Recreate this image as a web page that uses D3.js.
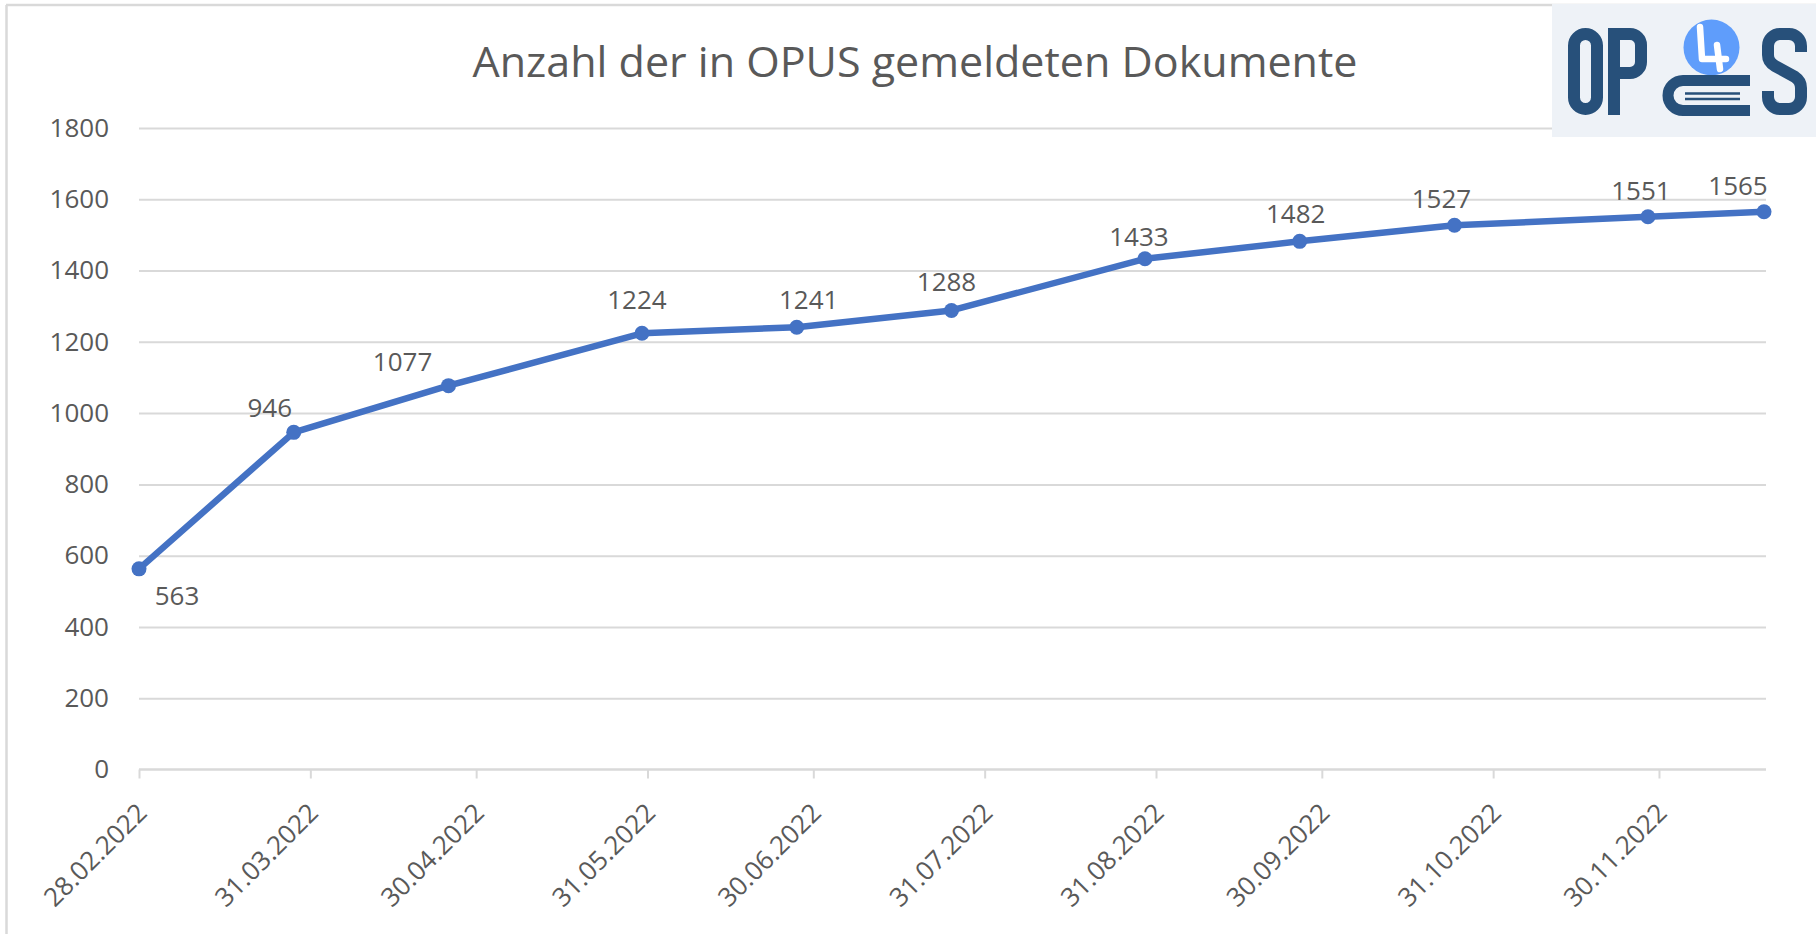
<!DOCTYPE html>
<html>
<head>
<meta charset="utf-8">
<script src="https://cdn.jsdelivr.net/npm/d3@7"></script>
<style>
  body { margin: 0; background: #fff; }
  svg text { font-family: "Open Sans", sans-serif; fill: #595959; }
</style>
</head>
<body>
<svg id="chart" width="1816" height="934"></svg>
<script>
// stichtage (letzter Montag im Monat) und Anzahl Dokumente
var dates = ["28.02.2022", "28.03.2022", "25.04.2022", "30.05.2022", "27.06.2022", "25.07.2022",
             "29.08.2022", "26.09.2022", "24.10.2022", "28.11.2022", "19.12.2022"];
var values = [563, 946, 1077, 1224, 1241, 1288, 1433, 1482, 1527, 1551, 1565];

var tickLabels = ["28.02.2022", "31.03.2022", "30.04.2022", "31.05.2022", "30.06.2022",
                  "31.07.2022", "31.08.2022", "30.09.2022", "31.10.2022", "30.11.2022"];
var yTicks = [0, 200, 400, 600, 800, 1000, 1200, 1400, 1600, 1800];

// label nudges relative to the point
var labelDx = [38, -24, -46, -5, 12, -5, -6, -4, -13, -7, -26];
var labelDy = [36, -15, -15, -24, -18, -19, -13, -18, -17, -17, -17];

var title = "Anzahl der in OPUS gemeldeten Dokumente";

var parse = d3.utcParse("%d.%m.%Y");
var fmt = d3.utcFormat("%d.%m.%Y");

var svg = d3.select("#chart");

var x = d3.scaleUtc()
  .domain([parse(dates[0]), parse(dates[dates.length - 1])])
  .range([139, 1764]);
var y = d3.scaleLinear().domain([0, 1800]).range([769.5, 128]);

// chart frame
svg.append("line").attr("x1", 6.5).attr("x2", 6.5).attr("y1", 5).attr("y2", 934)
  .attr("stroke", "#d9d9d9").attr("stroke-width", 2.5);
svg.append("line").attr("x1", 6).attr("x2", 1816).attr("y1", 5).attr("y2", 5)
  .attr("stroke", "#d9d9d9").attr("stroke-width", 2.5);

// title
svg.append("text")
  .attr("x", 915).attr("y", 77)
  .attr("text-anchor", "middle")
  .attr("textLength", 885)
  .attr("lengthAdjust", "spacingAndGlyphs")
  .style("font-size", "42px")
  .text(title);

// gridlines
var grid = svg.append("g")
  .attr("transform", "translate(139,0)")
  .call(d3.axisLeft(y).tickValues(yTicks.slice(1)).tickSize(-(1766 - 139)).tickFormat(""));
grid.select(".domain").remove();
grid.selectAll("line").attr("stroke", "#d9d9d9").attr("stroke-width", 2);

// y labels
var yAxis = svg.append("g")
  .attr("transform", "translate(139,0)")
  .call(d3.axisLeft(y).tickValues(yTicks).tickSize(0).tickPadding(30).tickFormat(d3.format("d")));
yAxis.select(".domain").remove();
yAxis.selectAll("text").style("font-size", "26px").attr("font-family", null);

// x axis
var xAxis = svg.append("g")
  .attr("transform", "translate(0," + y(0) + ")")
  .call(d3.axisBottom(x)
    .tickValues(tickLabels.map(parse))
    .tickSize(9)
    .tickSizeOuter(0)
    .tickFormat(fmt));
xAxis.select(".domain").attr("stroke", "#d9d9d9").attr("stroke-width", 2.5)
  .attr("d", "M" + x.range()[0] + ",0H" + (x.range()[1] + 2));
xAxis.selectAll(".tick line").attr("stroke", "#d9d9d9").attr("stroke-width", 2);
xAxis.selectAll("text")
  .style("font-size", "26px")
  .attr("x", 9).attr("y", 45).attr("dy", 0)
  .attr("text-anchor", "end")
  .attr("transform", "rotate(-45,9,45)");

// series
var pts = dates.map(function(d, i) { return { date: parse(d), value: values[i], i: i }; });

var line = d3.line()
  .x(function(d) { return x(d.date); })
  .y(function(d) { return y(d.value); });

svg.append("path")
  .datum(pts)
  .attr("fill", "none")
  .attr("stroke", "#4472c4")
  .attr("stroke-width", 6.5)
  .attr("stroke-linejoin", "round")
  .attr("d", line);

svg.append("g").selectAll("circle")
  .data(pts).enter().append("circle")
  .attr("cx", function(d) { return x(d.date); })
  .attr("cy", function(d) { return y(d.value); })
  .attr("r", 7.5)
  .attr("fill", "#4472c4");

svg.append("g").selectAll("text")
  .data(pts).enter().append("text")
  .attr("x", function(d) { return x(d.date) + labelDx[d.i]; })
  .attr("y", function(d) { return y(d.value) + labelDy[d.i]; })
  .attr("text-anchor", "middle")
  .style("font-size", "26px")
  .text(function(d) { return d.value; });

// OPUS 4 logo (top right)
var logo = svg.append("g");
var dark = "#27507a";
logo.append("rect").attr("x", 1552).attr("y", 4).attr("width", 264).attr("height", 133).attr("fill", "#eef2f7");
// O
logo.append("rect").attr("x", 1574).attr("y", 34).attr("width", 23).attr("height", 75).attr("rx", 11.5)
  .attr("fill", "none").attr("stroke", dark).attr("stroke-width", 12);
// P
logo.append("rect").attr("x", 1608).attr("y", 28).attr("width", 12).attr("height", 87).attr("fill", dark);
logo.append("path").attr("d", "M1614,34H1630A11,11 0 0 1 1641,45V62A11,11 0 0 1 1630,73H1614")
  .attr("fill", "none").attr("stroke", dark).attr("stroke-width", 12);
// circle with 4
logo.append("circle").attr("cx", 1711.5).attr("cy", 47.5).attr("r", 28).attr("fill", "#5f9dfb");
logo.append("path").attr("d", "M1700,27L1702,59H1726M1717,45L1720,69")
  .attr("fill", "none").attr("stroke", "#fff").attr("stroke-width", 6.5)
  .attr("stroke-linecap", "round").attr("stroke-linejoin", "round");
// book
logo.append("path").attr("d", "M1750,80.5H1683A15,15 0 0 0 1683,110.5H1750")
  .attr("fill", "none").attr("stroke", dark).attr("stroke-width", 11);
logo.append("path").attr("d", "M1685,93.5H1740M1685,99H1740")
  .attr("stroke", dark).attr("stroke-width", 2.5);
// S
logo.append("path")
  .attr("d", "M1801,52V46A12,12 0 0 0 1789,34H1780A12,12 0 0 0 1768,46V55Q1768,62 1775,66L1795,77Q1801,81 1801,88V97A12,12 0 0 1 1789,109H1780A12,12 0 0 1 1768,97V91")
  .attr("fill", "none").attr("stroke", dark).attr("stroke-width", 12);
</script>
</body>
</html>
